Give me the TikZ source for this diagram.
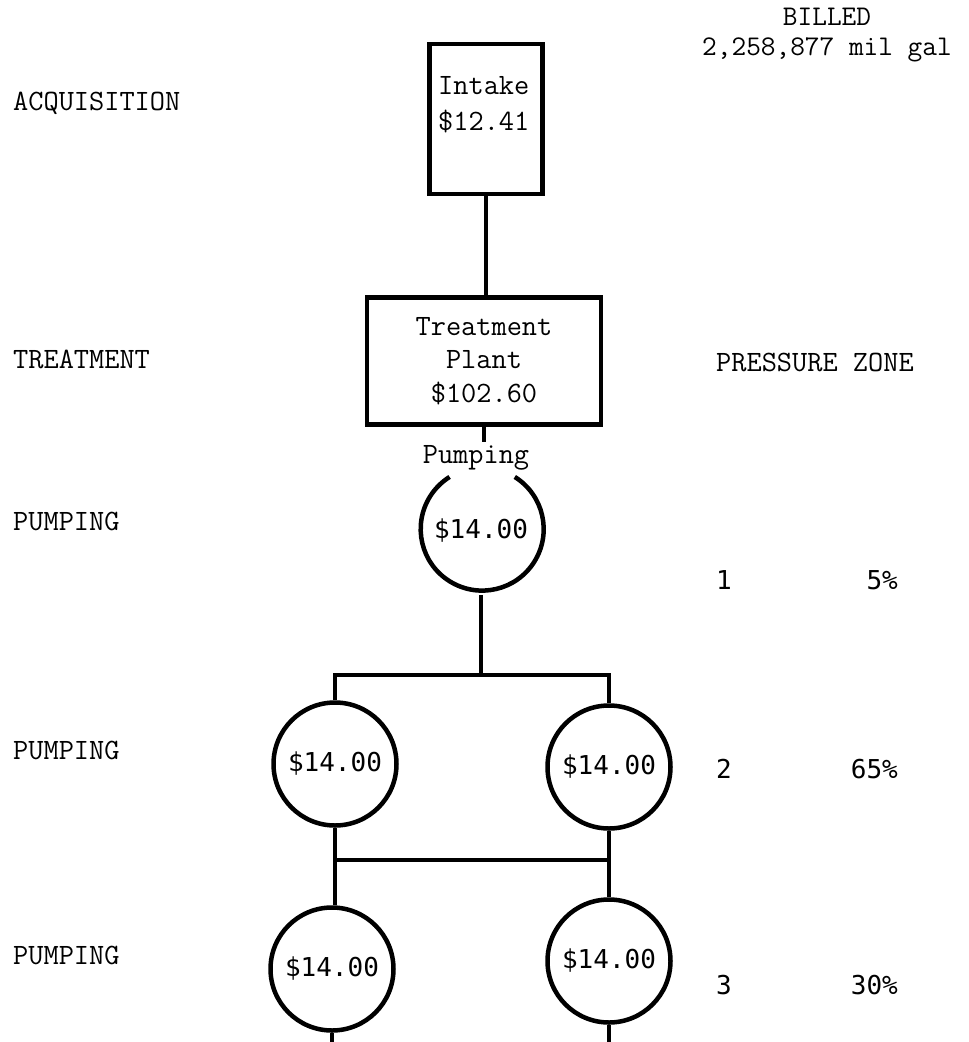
\documentclass[tikz,border=0pt]{standalone}
\usepackage{fontspec}
\newfontfamily\gothic{DejaVu Sans Mono}

\begin{document}
\begin{tikzpicture}[x=1pt,y=-1pt,
  every node/.style={font=\fontsize{29.5}{33}\selectfont\ttfamily, inner sep=0pt},
  figs/.style={font=\fontsize{26}{30}\selectfont\gothic},
  pipe/.style={line width=4.5pt},
  box/.style={draw, line width=4.5pt},
  pump/.style={circle, draw, line width=4.5pt, minimum size=123pt, figs}]

  \useasboundingbox (0,0) rectangle (969,1042);

  % Stage names
  \node[anchor=west] (acq) at (13,103) {ACQUISITION};
  \node[anchor=west] (trt) at (13,359) {TREATMENT};
  \node[anchor=west] (pmp1) at (13,521) {PUMPING};
  \node[anchor=west] (pmp2) at (13,750) {PUMPING};
  \node[anchor=west] (pmp3) at (13,955) {PUMPING};

  % Billed volume and zones
  \node[align=center, font=\fontsize{28.5}{30}\selectfont\ttfamily] (billed) at (827,35) {BILLED\\2,258,877 mil gal};
  \node[anchor=west] (zone) at (716,362) {PRESSURE ZONE};
  \node[anchor=west, figs] (z1) at (716,580) {1};
  \node[anchor=east, figs] (p1) at (898,580) {5\%};
  \node[anchor=west, figs] (z2) at (716,769) {2};
  \node[anchor=east, figs] (p2) at (898,769) {65\%};
  \node[anchor=west, figs] (z3) at (716,985) {3};
  \node[anchor=east, figs] (p3) at (898,985) {30\%};

  % Intake and plant
  \node[box, minimum width=113pt, minimum height=150pt] (intake) at (486,119) {};
  \node[anchor=west, align=left, font=\fontsize{29.5}{36}\selectfont\ttfamily] (intaketxt) at (438,105) {Intake\\\$12.41};
  \node[box, minimum width=234pt, minimum height=127pt, align=center, font=\fontsize{29.5}{33.5}\selectfont\ttfamily] (treat) at (484,361) {Treatment\\Plant\\\$102.60};
  \draw[pipe] (intake.south) -- (intake.south |- treat.north);

  % Pumping stations
  \coordinate (tickend) at (484,442);
  \draw[pipe] (treat.south) -- (tickend);
  \node (pumplbl) at (476,458) {Pumping};
  \node[pump, draw=none] (pump1) at (481,531) {\$14.00};
  \draw[pipe] (pump1.58) arc[start angle=58, end angle=-238, radius=61.5pt];

  \node[pump] (pump2a) at (335,764) {\$14.00};
  \node[pump] (pump2b) at (609,767) {\$14.00};
  \node[pump] (pump3a) at (332,969) {\$14.00};
  \node[pump] (pump3b) at (609,961) {\$14.00};

  \coordinate (j1) at (481,675);
  \coordinate (j2) at (470,860);
  \coordinate (bottom) at (470,1042);

  \draw[pipe] (pump1.south) -- (j1);
  \draw[pipe] (pump2a.north) -- (pump2a.north |- j1) -- (pump2b.north |- j1) -- (pump2b.north);
  \draw[pipe] (pump2a.south) -- (pump2a.south |- pump3a.north);
  \draw[pipe] (pump2b.south) -- (pump3b.north);
  \draw[pipe] (pump2a.south |- j2) -- (pump2b.south |- j2);
  \draw[pipe] (pump3a.south) -- (pump3a.south |- bottom);
  \draw[pipe] (pump3b.south) -- (pump3b.south |- bottom);
\end{tikzpicture}
\end{document}
